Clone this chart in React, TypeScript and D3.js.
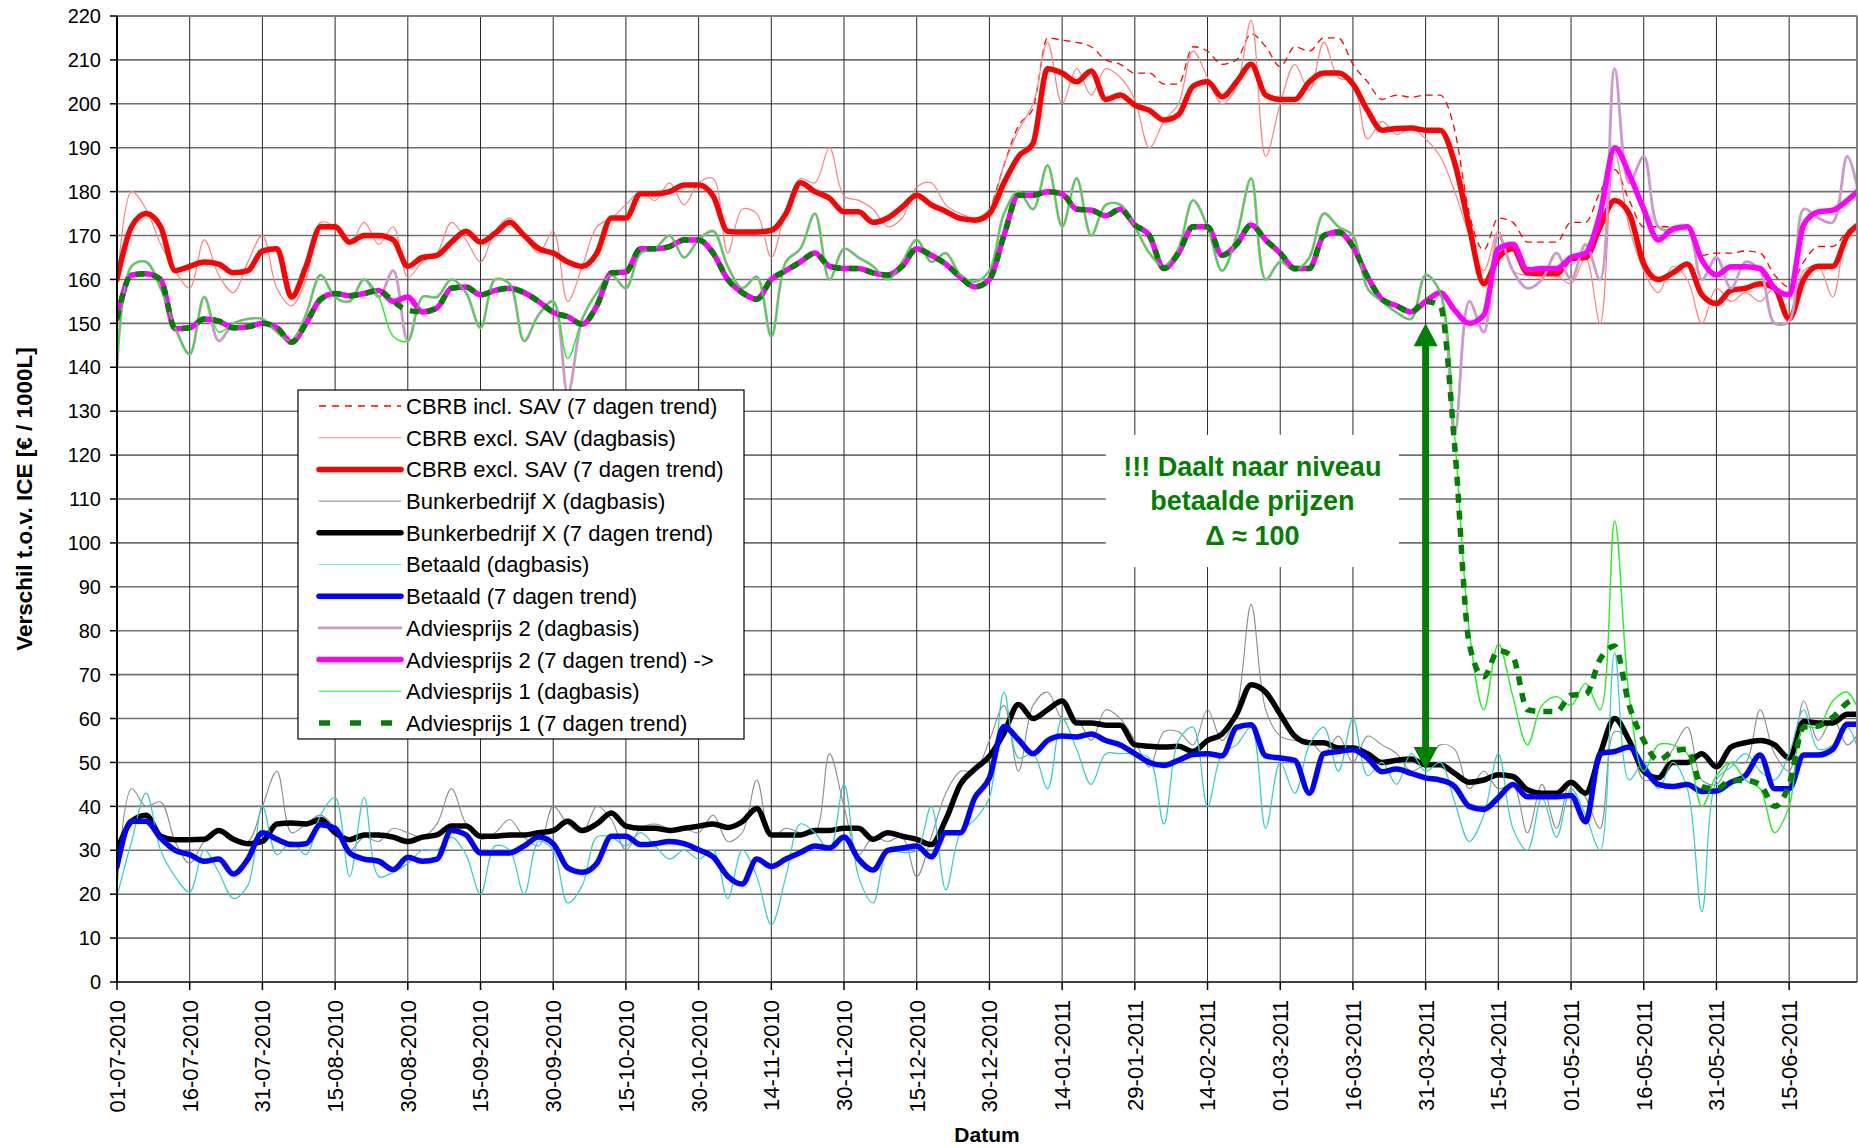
import React from "react";
import * as d3 from "d3";

// ---------- categories / ticks ----------
const xTickLabels = [
  "01-07-2010", "16-07-2010", "31-07-2010", "15-08-2010", "30-08-2010", "15-09-2010",
  "30-09-2010", "15-10-2010", "30-10-2010", "14-11-2010", "30-11-2010", "15-12-2010",
  "30-12-2010", "14-01-2011", "29-01-2011", "14-02-2011", "01-03-2011", "16-03-2011",
  "31-03-2011", "15-04-2011", "01-05-2011", "16-05-2011", "31-05-2011", "15-06-2011",
];
const DAY_COUNT = 360; // daily categories on the axis
const TICK_EVERY = 15; // a label every 15 categories
const SAMPLE_EVERY = 3; // values below are read every 3 days
const yTicks = d3.range(0, 221, 10);

// ---------- series (one value every 3 days) ----------
const cbrbInclTrend: (number | null)[] = [
  null, null, null, null, null, null, null, null, null, null,
  null, null, null, null, null, null, null, null, null, null,
  null, null, null, null, null, null, null, null, null, null,
  null, null, null, null, null, null, null, null, null, null,
  null, null, null, null, null, null, null, null, null, null,
  null, null, null, null, null, null, null, null, null, null,
  175, 186, 195, 199, 215, 214.5, 214, 213, 210, 209,
  207, 207, 204.5, 204.5, 213, 212, 209, 210, 216, 213,
  208.5, 213, 212, 215, 215, 209, 205, 201, 202, 201.5,
  202, 202, 194, 175, 166.7, 174, 173, 168.5, 168.5, 168.5,
  173, 173, 180, 185, 178, 172, 172, 172, 172.5, 165.5,
  166, 166, 166.5, 166, 161, 158.3, 164, 167.5, 167.5, 171,
  173,
];
const cbrbExclDaily = [
  158, 180, 176, 168, 162, 158, 169, 161, 157, 164,
  170, 158, 154, 160, 173, 172, 168, 173, 168, 172,
  160.5, 164, 166, 173, 169, 164, 171, 174, 170, 166,
  171, 155, 163, 172, 174, 177, 180, 178, 182, 177,
  182, 183, 166, 176, 175, 165, 176, 183, 182, 190,
  179, 178, 176, 172, 174, 181, 182, 177, 175, 174,
  176, 186, 194, 200, 214, 200, 208, 202, 208, 206,
  201, 190, 196, 200, 212, 206, 200, 204, 219, 188,
  200, 209, 203, 214, 206, 205, 192, 196, 193, 194.5,
  192, 188, 180, 170, 162, 171, 162, 161, 162, 161,
  159, 165, 150, 189, 172, 162, 157, 163, 160, 150,
  158, 155, 157, 155, 158, 151, 162, 163, 156, 170,
  172,
];
const cbrbExclTrend = [
  160, 172, 175, 172, 162, 163, 164, 163.5, 161.5, 162,
  166.5, 167, 156, 163, 172, 172, 168.5, 170, 170, 169,
  163, 165, 165.5, 168.5, 171, 168.5, 170.5, 173, 170, 167,
  166, 164, 163, 166, 174, 174, 179.5, 179.5, 180, 181.5,
  181.5, 179, 171, 170.8, 170.8, 171.2, 175, 182, 180, 178.5,
  175.4, 175.4, 173, 174, 176.5, 179.2, 177, 175.5, 173.9, 173.5,
  175, 182, 188, 191, 208, 207, 205, 207.5, 201, 202,
  199.7, 198.5, 196.3, 197.5, 204, 205, 201.6, 205, 209, 202,
  201, 201, 205, 207, 207, 204.5, 198.5, 194, 194.4, 194.5,
  194, 194, 186.5, 172, 159, 165, 167, 161.5, 161.3, 161.3,
  164.8, 165, 172, 178, 175, 163.6, 160, 161.5, 163.5, 156.5,
  154.5, 157.5, 158, 159, 158, 151, 160, 163, 163, 170,
  173,
];
const bunkerDaily = [
  21, 44, 40, 41, 32, 27, 32, 34, 33, 32,
  40, 48, 34, 36, 38, 35, 30, 33, 32, 35,
  34, 33, 36, 44, 36, 32.5, 34, 37, 33, 31,
  40, 36, 34, 40, 37, 30, 35, 36, 35, 35,
  34, 38, 32, 34, 46, 33, 35, 34, 34, 52,
  40, 29, 33, 32, 33, 24, 33, 43, 48, 48,
  55, 63, 48, 63, 66, 60, 60, 55, 62, 60,
  55, 49, 57, 57, 54, 62, 55, 62, 86, 62,
  56, 55, 55, 52, 56, 50, 56, 54, 52, 48,
  50, 54, 53, 44, 48, 44, 45, 34, 45, 35,
  46, 42, 35, 57, 55, 46, 47, 53, 58, 46,
  45, 50, 50, 62, 52, 48, 64, 55, 60, 54,
  58,
];
const bunkerTrend = [
  30, 36.6, 38, 33.2, 32.4, 32.4, 32.5, 34.5, 32.5, 31.5,
  32, 36, 36.2, 36, 37, 34, 32.4, 33.5, 33.5, 33,
  32, 33, 33.5, 35.5, 35.5, 33.2, 33.2, 33.5, 33.5, 34,
  34.5, 36.6, 34.5, 36, 38.5, 35.5, 35, 35, 34.5, 35,
  35.5, 36, 35.2, 36.5, 39.5, 33.5, 33.5, 33.5, 34.5, 34.5,
  35, 35, 32.5, 34, 33.2, 32.5, 31.3, 37, 45, 48.5,
  51.4, 56.7, 63.2, 60, 62, 64, 59, 59, 58.5, 58.5,
  54, 53.7, 53.5, 53.7, 52.5, 55, 56.5, 61, 67.7, 66,
  61, 56, 54.5, 54.5, 53.3, 53.3, 52, 50, 50.5, 50.8,
  49.5, 49.5, 47.5, 45.5, 46, 47.2, 46.8, 43.8, 43, 43,
  45.5, 43, 52, 60, 55, 48, 46.5, 50, 50, 52,
  49, 53.5, 54.5, 55, 54, 51, 59.3, 59, 59, 61,
  61,
];
const betaaldDaily = [
  19.5, 32, 43, 30, 24, 20.5, 30, 25, 19, 22,
  40, 29, 32, 29, 38, 42, 24, 42, 24, 25,
  27, 30, 30, 33, 29, 20, 31, 30, 20, 32,
  30, 18, 22, 33, 33, 31, 34, 31, 28, 30,
  28, 30, 19, 30, 24, 13, 24, 36, 34, 30,
  45, 24, 18, 30, 29.5, 30, 40, 21, 34, 37,
  42, 66, 51, 52, 44, 60, 53, 45, 52, 52,
  52, 51, 36, 55, 58, 40, 52, 54, 58, 35,
  50, 43, 54, 58, 48, 60, 47, 50, 45, 52,
  48, 50, 41, 32, 38, 52, 35, 30, 42, 33,
  44, 38, 30, 75, 46, 50, 44, 50, 44, 16,
  46, 49, 52, 48, 46, 52, 62, 53, 54, 58,
  50,
];
const betaaldTrend = [
  26.3, 36.6, 36.6, 32.8, 30, 29, 27.5, 28, 24.6, 28,
  34, 32.5, 31.3, 31.5, 35.8, 35, 29.4, 28, 27.5, 25.6,
  28.4, 27.5, 28, 34.5, 33.5, 29.4, 29.4, 29.4, 31, 33,
  31.5, 26, 25, 27, 33.2, 33.2, 31.3, 31.5, 32, 31.5,
  30.1, 28.5, 24.1, 22.3, 28, 26.3, 28, 29.5, 31, 30.5,
  33, 28, 25.5, 30, 30.5, 31, 28.5, 34, 34, 42,
  46.5, 58.2, 55.2, 52, 55, 56, 55.8, 56.5, 55, 54,
  52, 50, 49.3, 50.5, 51.8, 52, 51.5, 58, 58.6, 51.5,
  51, 50.5, 43, 52, 52.5, 52.9, 51, 47.9, 48.5, 47.5,
  46.5, 46, 44.5, 40, 39.3, 42, 45, 42.2, 42.2, 42.2,
  42.5, 36.5, 52, 52.5, 53.5, 48.8, 45, 44.5, 45, 43.4,
  43.5, 45.5, 47, 51.7, 44, 44, 51.7, 51.7, 53, 58.7,
  58.7,
];
const advies2Daily = [
  140, 163, 164, 158, 149, 143, 156, 146, 150, 151,
  151, 148, 146, 152, 161, 156, 155, 160, 156, 162,
  146, 156, 156, 160, 157, 149, 160, 159, 146, 152,
  155, 134, 151, 157, 161, 158, 166, 167, 170, 165,
  169, 171, 163, 158, 160.6, 147, 164, 167, 175, 160,
  167, 165, 163, 160, 164, 169, 164, 166, 161, 159.5,
  162, 175, 180, 176, 186, 172, 183, 170, 177, 177,
  172, 166, 163, 167, 178, 172, 162, 170, 183, 160,
  164, 162, 165, 175, 172, 170, 158, 155, 152.5, 151,
  161, 157, 125, 155, 148, 170, 162, 158, 160, 166,
  160, 168, 160, 208, 182, 188, 172, 171, 172, 160,
  165, 158, 164, 162, 150, 150.5, 176, 174, 173, 188,
  176,
];
const advies2Trend = [
  151, 161, 161.3, 160, 148.8, 149, 151, 150.5, 149, 149.2,
  150, 149, 145.7, 150, 155.5, 156.8, 156.3, 156.8, 157.5, 155,
  156, 152.6, 153.5, 158, 158.3, 156.5, 157.5, 158, 157, 155,
  152.5, 151.5, 149.8, 154, 161.5, 161.7, 167, 167, 167.5, 169,
  169, 166, 160, 157, 155.5, 160, 162, 164, 166, 163,
  162.5, 162.5, 161.5, 161, 163, 167, 165.5, 163.5, 160.5, 158.3,
  160, 170, 179.2, 179.2, 180, 179.5, 176, 175.8, 174.5, 176,
  172.4, 170, 162.5, 166, 172, 172, 165.5, 168, 172.4, 169,
  166, 162.5, 162.5, 170, 170.8, 167.5, 160.6, 155.5, 154, 152.6,
  155, 157, 153, 150, 151.9, 167, 168, 162.2, 162.5, 162.5,
  165, 166, 175, 190, 184, 176, 169, 171.5, 172, 164.4,
  161, 162.9, 162.9, 162.5, 158, 156.5, 172.5, 175.4, 175.8, 178,
  181,
];
const advies1Daily = [
  140, 163, 164, 158, 149, 143, 156, 148, 150, 151,
  151, 148, 146, 152, 161, 156, 155, 160, 156, 147,
  146, 156, 156, 160, 157, 149, 160, 159, 146, 152,
  155, 142, 151, 157, 161, 158, 166, 167, 170, 165,
  169, 171, 163, 158, 160.6, 147, 164, 167, 175, 160,
  167, 165, 163, 160, 164, 169, 164, 166, 161, 159.5,
  162, 175, 180, 176, 186, 172, 183, 170, 177, 177,
  172, 166, 163, 167, 178, 172, 162, 170, 183, 160,
  164, 162, 165, 175, 172, 170, 158, 155, 152.5, 151,
  161, 157, 124, 80, 62, 77, 65, 54, 63, 65,
  63, 68, 62, 105, 65, 48, 54, 54, 52, 40,
  47, 50, 46, 44, 34, 40, 58, 58, 64, 66,
  60,
];
const advies1Trend = [
  151, 161, 161.3, 160, 148.8, 149, 151, 150.5, 149, 149.2,
  150, 149, 145.7, 150, 155.5, 156.8, 156.3, 156.8, 157.5, 155,
  153, 152.6, 153.5, 158, 158.3, 156.5, 157.5, 158, 157, 155,
  152.5, 151.5, 149.8, 154, 161.5, 161.7, 167, 167, 167.5, 169,
  169, 166, 160, 157, 155.5, 160, 162, 164, 166, 163,
  162.5, 162.5, 161.5, 161, 163, 167, 165.5, 163.5, 160.5, 158.3,
  160, 170, 179.2, 179.2, 180, 179.5, 176, 175.8, 174.5, 176,
  172.4, 170, 162.5, 166, 172, 172, 165.5, 168, 172.4, 169,
  166, 162.5, 162.5, 170, 170.8, 167.5, 160.6, 155.5, 154, 152.6,
  155, 154, 122, 77, 69.5, 75.5, 74, 62, 61.6, 61.6,
  65.3, 65.5, 73.5, 76.5, 63, 55, 50.5, 52.5, 53, 44.5,
  44, 45.9, 45.9, 45, 40, 45, 58, 58.3, 60.3, 63.6,
  65,
];

// annotation
const annotationLines = ["!!! Daalt naar niveau", "betaalde prijzen", "\u0394 \u2248 100"];
const arrowDay = 270; // 31-03-2011
const arrowFrom = 150;
const arrowTo = 48.3;

type Kind = "daily" | "trend";
interface SeriesDef {
  name: string;
  data: (number | null)[];
  color: string;
  width: number;
  kind: Kind;
  dash?: string;
  legendDash?: string;
  legendColor?: string;
}

const seriesDefs: SeriesDef[] = [
  { name: "CBRB incl. SAV (7 dagen trend)", data: cbrbInclTrend, color: "#FF0000", width: 1.3, kind: "trend", dash: "7,5", legendDash: "7,6" },
  { name: "CBRB excl. SAV (dagbasis)", data: cbrbExclDaily, color: "#FF8080", width: 1.2, kind: "daily", legendColor: "#FFA0A0" },
  { name: "CBRB excl. SAV (7 dagen trend)", data: cbrbExclTrend, color: "#FF0000", width: 5.5, kind: "trend" },
  { name: "Bunkerbedrijf X (dagbasis)", data: bunkerDaily, color: "#8C8C8C", width: 1.1, kind: "daily", legendColor: "#A0A0A0" },
  { name: "Bunkerbedrijf X (7 dagen trend)", data: bunkerTrend, color: "#000000", width: 5.5, kind: "trend" },
  { name: "Betaald (dagbasis)", data: betaaldDaily, color: "#33CCCC", width: 1.2, kind: "daily", legendColor: "#80DDDD" },
  { name: "Betaald (7 dagen trend)", data: betaaldTrend, color: "#0000FF", width: 5.5, kind: "trend" },
  { name: "Adviesprijs 2 (dagbasis)", data: advies2Daily, color: "#CC99CC", width: 2.8, kind: "daily" },
  { name: "Adviesprijs 2 (7 dagen trend) ->", data: advies2Trend, color: "#FF00FF", width: 5.5, kind: "trend" },
  { name: "Adviesprijs 1 (dagbasis)", data: advies1Daily, color: "#22EE22", width: 1.4, kind: "daily", legendColor: "#66FF66" },
  { name: "Adviesprijs 1 (7 dagen trend)", data: advies1Trend, color: "#008000", width: 5.5, kind: "trend", dash: "9,8", legendDash: "11,20" },
];

const FONT = "'Liberation Sans', Arial, Helvetica, sans-serif";

export default function App() {
  const W = 1858;
  const H = 1148;
  const plot = { left: 117, right: 1857, top: 16, bottom: 982 };

  const x = d3.scaleLinear().domain([0, DAY_COUNT - 1]).range([plot.left, plot.right]);
  const y = d3.scaleLinear().domain([0, 220]).range([plot.bottom, plot.top]);

  const makeLine = (kind: Kind) =>
    d3
      .line<number | null>()
      .defined((d) => d !== null)
      .x((_, i) => x(i * SAMPLE_EVERY))
      .y((d) => y(d as number))
      .curve(kind === "daily" ? d3.curveCatmullRom.alpha(0.5) : d3.curveMonotoneX);

  const tickDays = xTickLabels.map((_, j) => j * TICK_EVERY);

  // legend layout
  const lg = { x: 298, y: 390, w: 446, h: 349, row0: 406, rowH: 31.7, lx1: 319, lx2: 401, tx: 406 };

  // annotation layout (data-anchored)
  const boxX1 = x(204);
  const boxX2 = x(264.5);
  const boxY1 = y(124.6);
  const boxY2 = y(94.5);
  const ax = x(arrowDay);
  const aTop = y(arrowFrom);
  const aBot = y(arrowTo);
  const head = 23;
  const halfW = 12;

  return (
    <svg
      width={W}
      height={H}
      viewBox={`0 0 ${W} ${H}`}
      style={{ position: "absolute", left: 0, top: 0, background: "#fff" }}
      fontFamily={FONT}
    >
      <defs>
        <clipPath id="plotClip">
          <rect x={plot.left} y={plot.top - 4} width={plot.right - plot.left} height={plot.bottom - plot.top + 4} />
        </clipPath>
      </defs>
      <rect x={0} y={0} width={W} height={H} fill="#fff" />

      {/* horizontal gridlines */}
      {yTicks.map((v) => (
        <line key={"h" + v} x1={plot.left} x2={plot.right} y1={y(v)} y2={y(v)} stroke="#707070" strokeWidth={1.6} />
      ))}
      {/* vertical gridlines */}
      {tickDays.map((d) => (
        <line key={"v" + d} x1={x(d)} x2={x(d)} y1={plot.top} y2={plot.bottom} stroke="#2a2a2a" strokeWidth={1} />
      ))}

      {/* series */}
      <g clipPath="url(#plotClip)">
        {seriesDefs.map((s) => (
          <path
            key={s.name}
            d={makeLine(s.kind)(s.data) || ""}
            fill="none"
            stroke={s.color}
            strokeWidth={s.width}
            strokeDasharray={s.dash}
            strokeLinejoin="round"
            strokeLinecap={s.dash ? "butt" : "round"}
          />
        ))}
      </g>

      {/* plot frame */}
      <line x1={plot.left} x2={plot.right} y1={plot.top} y2={plot.top} stroke="#808080" strokeWidth={2} />
      <line x1={plot.right} x2={plot.right} y1={plot.top} y2={plot.bottom} stroke="#808080" strokeWidth={2} />
      <line x1={plot.left} x2={plot.right} y1={plot.bottom} y2={plot.bottom} stroke="#404040" strokeWidth={2} />
      <line x1={plot.left} x2={plot.left} y1={plot.top} y2={plot.bottom} stroke="#000" strokeWidth={2} />

      {/* y axis ticks & labels */}
      {yTicks.map((v) => (
        <g key={"yt" + v}>
          <line x1={plot.left - 7} x2={plot.left} y1={y(v)} y2={y(v)} stroke="#000" strokeWidth={1.5} />
          <text x={101} y={y(v)} dy="0.36em" textAnchor="end" fontSize={20} fill="#000">
            {v}
          </text>
        </g>
      ))}

      {/* x axis ticks & labels */}
      {tickDays.map((d, j) => (
        <g key={"xt" + d}>
          <line x1={x(d)} x2={x(d)} y1={plot.bottom} y2={plot.bottom + 8} stroke="#000" strokeWidth={1.5} />
          <text
            transform={`translate(${x(d)},1000) rotate(-90)`}
            dy="0.36em"
            textAnchor="end"
            fontSize={22}
            fill="#000"
          >
            {xTickLabels[j]}
          </text>
        </g>
      ))}

      {/* axis titles */}
      <text x={(plot.left + plot.right) / 2} y={1142} textAnchor="middle" fontSize={21} fontWeight="bold" fill="#000">
        Datum
      </text>
      <text
        transform={`translate(24,499) rotate(-90)`}
        dy="0.36em"
        textAnchor="middle"
        fontSize={22.5}
        fontWeight="bold"
        fill="#000"
      >
        Verschil t.o.v. ICE [€ / 1000L]
      </text>

      {/* legend */}
      <rect x={lg.x} y={lg.y} width={lg.w} height={lg.h} fill="#fff" stroke="#000" strokeWidth={1.2} />
      {seriesDefs.map((s, i) => {
        const ry = lg.row0 + i * lg.rowH;
        return (
          <g key={"lg" + i}>
            <line
              x1={lg.lx1}
              x2={lg.lx2}
              y1={ry}
              y2={ry}
              stroke={s.legendColor || s.color}
              strokeWidth={s.width}
              strokeDasharray={s.legendDash}
              strokeLinecap={s.legendDash ? "butt" : "round"}
            />
            <text x={lg.tx} y={ry} dy="0.36em" fontSize={22} fill="#000">
              {s.name}
            </text>
          </g>
        );
      })}

      {/* annotation box */}
      <rect x={boxX1} y={boxY1} width={boxX2 - boxX1} height={boxY2 - boxY1} fill="#fff" />
      {annotationLines.map((t, i) => (
        <text
          key={"an" + i}
          x={(boxX1 + boxX2) / 2}
          y={466 + i * 34.5}
          dy="0.36em"
          textAnchor="middle"
          fontSize={27}
          fontWeight="bold"
          fill="#008000"
        >
          {t}
        </text>
      ))}

      {/* double arrow */}
      <line x1={ax} x2={ax} y1={aTop + head - 2} y2={aBot - head + 2} stroke="#008000" strokeWidth={7} />
      <path d={`M${ax},${aTop} L${ax - halfW},${aTop + head} L${ax + halfW},${aTop + head} Z`} fill="#008000" />
      <path d={`M${ax},${aBot} L${ax - halfW},${aBot - head} L${ax + halfW},${aBot - head} Z`} fill="#008000" />
    </svg>
  );
}
